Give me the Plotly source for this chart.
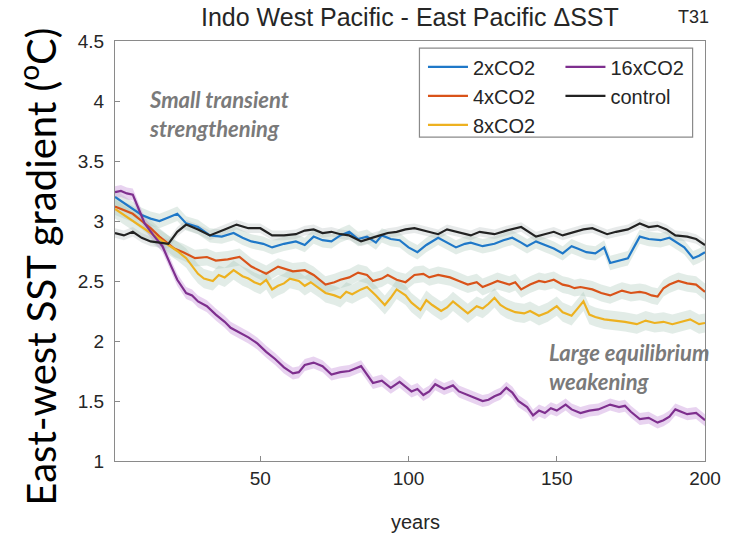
import plotly.graph_objects as go

# ---- East-west SST gradient time series (deg C) per experiment ----
years_2x = [1, 4, 7, 10, 13, 16, 19, 22, 25, 29, 33, 37, 41, 44, 47, 51, 54, 58, 62, 65, 68, 71, 74, 77, 80,
            83, 86, 89, 91, 94, 97, 100, 103, 106, 110, 113, 116, 119, 121, 125, 129, 132, 135, 138, 140, 143,
            146, 149, 152, 155, 157, 160, 163, 166, 168, 171, 174, 176, 178, 181, 185, 188, 190, 193, 196, 198, 200]
sst_2x = [3.20, 3.15, 3.10, 3.05, 3.02, 3.00, 3.03, 3.06, 2.98, 2.95, 2.88, 2.87, 2.90, 2.86, 2.83, 2.81, 2.78,
          2.81, 2.83, 2.80, 2.87, 2.84, 2.83, 2.88, 2.91, 2.85, 2.87, 2.82, 2.88, 2.85, 2.84, 2.78, 2.74, 2.80,
          2.86, 2.82, 2.78, 2.81, 2.82, 2.79, 2.81, 2.84, 2.86, 2.82, 2.79, 2.83, 2.80, 2.77, 2.73, 2.79, 2.77,
          2.74, 2.73, 2.78, 2.65, 2.67, 2.69, 2.78, 2.87, 2.85, 2.84, 2.86, 2.83, 2.78, 2.69, 2.71, 2.74]

years_4x = [1, 4, 7, 10, 13, 16, 19, 21, 24, 28, 32, 35, 39, 43, 47, 50, 52, 56, 61, 65, 68, 72, 75, 77, 80, 83,
            86, 88, 91, 93, 96, 99, 102, 105, 107, 110, 114, 117, 120, 123, 125, 128, 130, 134, 136, 138, 141,
            144, 146, 149, 152, 154, 156, 158, 162, 165, 168, 170, 172, 175, 178, 180, 182, 184, 186, 188, 191,
            194, 197, 200]
sst_4x = [3.12, 3.09, 3.06, 3.00, 2.94, 2.87, 2.81, 2.77, 2.74, 2.69, 2.70, 2.67, 2.68, 2.70, 2.62, 2.58, 2.56,
          2.62, 2.58, 2.59, 2.55, 2.47, 2.49, 2.51, 2.53, 2.57, 2.55, 2.50, 2.52, 2.55, 2.51, 2.49, 2.55, 2.56,
          2.53, 2.55, 2.53, 2.50, 2.47, 2.49, 2.45, 2.48, 2.50, 2.47, 2.49, 2.43, 2.47, 2.50, 2.49, 2.51, 2.47,
          2.46, 2.44, 2.45, 2.43, 2.40, 2.38, 2.40, 2.42, 2.40, 2.41, 2.40, 2.38, 2.37, 2.44, 2.47, 2.50, 2.48,
          2.47, 2.41]

years_8x = [1, 4, 7, 10, 13, 16, 19, 22, 25, 27, 29, 31, 34, 36, 38, 41, 44, 46, 48, 50, 52, 54, 56, 58, 60, 63,
            65, 67, 70, 72, 75, 77, 79, 81, 84, 86, 89, 92, 94, 96, 99, 101, 104, 106, 108, 111, 113, 115, 118,
            120, 123, 125, 127, 129, 131, 133, 136, 139, 141, 144, 147, 150, 152, 155, 157, 159, 161, 163, 166,
            170, 173, 177, 180, 183, 186, 189, 192, 195, 198, 200]
sst_8x = [3.10, 3.05, 3.00, 2.95, 2.90, 2.85, 2.80, 2.75, 2.69, 2.62, 2.56, 2.52, 2.50, 2.55, 2.53, 2.59, 2.54,
          2.52, 2.49, 2.47, 2.51, 2.43, 2.46, 2.48, 2.52, 2.50, 2.46, 2.49, 2.44, 2.40, 2.38, 2.36, 2.41, 2.39,
          2.43, 2.45, 2.38, 2.30, 2.36, 2.43, 2.38, 2.32, 2.26, 2.34, 2.30, 2.25, 2.28, 2.33, 2.27, 2.23, 2.29,
          2.27, 2.31, 2.36, 2.30, 2.27, 2.24, 2.23, 2.25, 2.21, 2.24, 2.29, 2.24, 2.21, 2.27, 2.33, 2.22, 2.20,
          2.18, 2.17, 2.16, 2.14, 2.17, 2.15, 2.16, 2.14, 2.16, 2.18, 2.14, 2.15]

years_16x = [1, 3, 5, 7, 9, 11, 14, 17, 20, 22, 25, 27, 29, 32, 35, 38, 40, 43, 46, 49, 52, 55, 58, 61, 63, 65,
             68, 71, 74, 77, 80, 84, 86, 88, 91, 94, 97, 99, 101, 103, 105, 107, 109, 112, 115, 117, 120, 123,
             125, 127, 129, 131, 133, 135, 137, 140, 142, 144, 146, 148, 150, 153, 155, 158, 161, 164, 168, 171,
             173, 175, 178, 181, 184, 186, 188, 190, 192, 194, 197, 200]
sst_16x = [3.24, 3.25, 3.23, 3.22, 3.10, 2.98, 2.88, 2.79, 2.62, 2.51, 2.40, 2.38, 2.33, 2.29, 2.22, 2.16, 2.11,
           2.07, 2.03, 1.98, 1.91, 1.85, 1.78, 1.73, 1.74, 1.80, 1.82, 1.79, 1.72, 1.74, 1.75, 1.79, 1.72, 1.65,
           1.67, 1.61, 1.66, 1.62, 1.58, 1.60, 1.55, 1.58, 1.64, 1.60, 1.63, 1.58, 1.55, 1.52, 1.50, 1.51, 1.54,
           1.56, 1.61, 1.57, 1.50, 1.45, 1.38, 1.42, 1.40, 1.44, 1.42, 1.47, 1.43, 1.40, 1.42, 1.43, 1.47, 1.45,
           1.46, 1.41, 1.35, 1.36, 1.32, 1.34, 1.37, 1.43, 1.41, 1.39, 1.40, 1.34]

years_ctl = [1, 4, 7, 10, 13, 16, 19, 22, 25, 29, 33, 38, 42, 46, 50, 54, 58, 62, 65, 68, 71, 74, 77, 80, 84, 89,
             93, 96, 99, 102, 107, 110, 113, 118, 121, 124, 129, 133, 138, 143, 146, 149, 152, 156, 159, 162, 167,
             170, 174, 178, 181, 184, 187, 190, 194, 197, 200]
sst_ctl = [2.90, 2.88, 2.91, 2.86, 2.83, 2.82, 2.81, 2.91, 2.97, 2.93, 2.88, 2.93, 2.97, 2.94, 2.94, 2.88, 2.88,
           2.89, 2.92, 2.93, 2.90, 2.91, 2.89, 2.88, 2.83, 2.87, 2.90, 2.91, 2.93, 2.94, 2.91, 2.89, 2.93, 2.90,
           2.88, 2.91, 2.89, 2.92, 2.95, 2.87, 2.89, 2.91, 2.88, 2.91, 2.93, 2.94, 2.89, 2.91, 2.93, 2.98, 2.95,
           2.96, 2.93, 2.88, 2.87, 2.85, 2.80]

# ensemble spread (half-width of the shaded band, deg C)
spread_2x, spread_4x, spread_8x, spread_16x, spread_ctl = 0.06, 0.07, 0.08, 0.05, 0.04

x_ticks = [50, 100, 150, 200]
y_ticks = [1, 1.5, 2, 2.5, 3, 3.5, 4, 4.5]

BAND = "rgba(165,195,180,0.32)"
series = [
    # name, years, values, spread, line colour, band colour, legend column
    ("2xCO2", years_2x, sst_2x, spread_2x, "#1f78c8", BAND, "legend"),
    ("4xCO2", years_4x, sst_4x, spread_4x, "#d95319", BAND, "legend"),
    ("8xCO2", years_8x, sst_8x, spread_8x, "#edb120", BAND, "legend"),
    ("16xCO2", years_16x, sst_16x, spread_16x, "#7e2f8e", "rgba(200,150,220,0.42)", "legend2"),
    ("control", years_ctl, sst_ctl, spread_ctl, "#222222", "rgba(170,180,180,0.28)", "legend2"),
]

fig = go.Figure()

# shaded spread behind every line
for name, yrs, vals, hw, _, band, _ in series:
    upper = [v + hw for v in vals]
    lower = [v - hw for v in vals]
    fig.add_trace(go.Scatter(
        x=list(yrs) + list(yrs)[::-1], y=upper + lower[::-1],
        fill="toself", fillcolor=band, line=dict(width=0),
        hoverinfo="skip", showlegend=False, mode="lines"))

for name, yrs, vals, hw, color, _, leg in series:
    fig.add_trace(go.Scatter(x=yrs, y=vals, mode="lines", name=name, legend=leg,
                             line=dict(color=color, width=2.2)))

SANS = "Liberation Sans, Arial, sans-serif"
tick_font = dict(family=SANS, size=19, color="#262626")
axis_common = dict(showline=True, linecolor="#8a8a8a", linewidth=1.2, mirror=True,
                   ticks="inside", ticklen=5, tickcolor="#8a8a8a", showgrid=False,
                   zeroline=False, tickfont=tick_font)
legend_common = dict(yanchor="top", xanchor="left", bgcolor="rgba(0,0,0,0)", borderwidth=0,
                     font=dict(family=SANS, size=20, color="#262626"), tracegroupgap=0,
                     itemwidth=40)

fig.update_layout(
    width=733, height=535,
    margin=dict(l=115, r=21, t=41, b=74),
    paper_bgcolor="white", plot_bgcolor="white",
    xaxis=dict(range=[1, 200], tickvals=x_ticks, **axis_common),
    yaxis=dict(range=[1, 4.5], tickvals=y_ticks, ticklabelstandoff=6, **axis_common),
    legend=dict(x=0.522, y=0.985, **legend_common),
    legend2=dict(x=0.755, y=0.985, **legend_common),
    showlegend=True,
)

# legend frame enclosing both legend columns
fig.add_shape(type="rect", xref="paper", yref="paper", x0=0.516, x1=0.979, y0=0.771, y1=0.983,
              line=dict(color="#8a8a8a", width=1.2), fillcolor="white", layer="above")

fig.add_annotation(text="Indo West Pacific - East Pacific \u0394SST", xref="paper", yref="paper",
                   x=0.5, y=1.057, xanchor="center", yanchor="middle", showarrow=False,
                   font=dict(family=SANS, size=25, color="#262626"))
fig.add_annotation(text="T31", xref="paper", yref="paper", x=0.98, y=1.057,
                   xanchor="center", yanchor="middle", showarrow=False,
                   font=dict(family=SANS, size=18, color="#262626"))
fig.add_annotation(text="years", xref="paper", yref="paper", x=0.51, y=-0.145,
                   xanchor="center", yanchor="middle", showarrow=False,
                   font=dict(family=SANS, size=20, color="#262626"))
fig.add_annotation(text="East-west SST gradient (<sup>o</sup>C)", xref="paper", yref="paper",
                   x=-0.131, y=0.462, xanchor="center", yanchor="middle", textangle=-90,
                   showarrow=False, font=dict(family="Lato, sans-serif", size=40, color="black"))
fig.add_annotation(text="<b><i>Small transient<br>strengthening</i></b>", xref="paper", yref="paper",
                   x=0.055, y=0.826, xanchor="left", yanchor="middle", align="left", showarrow=False,
                   font=dict(family="Lato, sans-serif", size=22, color="#7a7a7a"))
fig.add_annotation(text="<b><i>Large equilibrium<br>weakening</i></b>", xref="paper", yref="paper",
                   x=0.732, y=0.224, xanchor="left", yanchor="middle", align="left", showarrow=False,
                   font=dict(family="Lato, sans-serif", size=22, color="#7a7a7a"))

fig.write_html("out.html")
